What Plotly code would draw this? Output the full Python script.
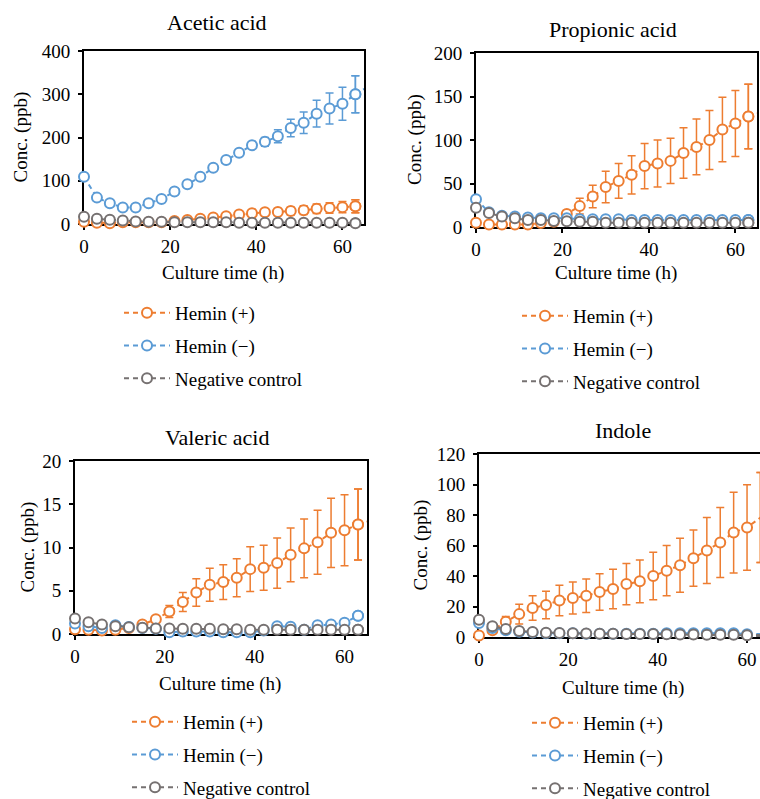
import plotly.graph_objects as go

# ---------------- data ----------------
time_h = [0, 3, 6, 9, 12, 15, 18, 21, 24, 27, 30, 33, 36, 39, 42, 45, 48, 51, 54, 57, 60, 63, 66]
series_names = ["Hemin (+)", "Hemin (\u2212)", "Negative control"]
panel_titles = ["Acetic acid", "Propionic acid", "Valeric acid", "Indole"]
x_label = "Culture time (h)"
y_label = "Conc. (ppb)"

acetic_plus = [5, 3, 2, 4, 4, 4, 4, 7, 9, 12, 15, 18, 22, 25, 27, 28, 30, 32, 35, 37, 39, 41, 43]
acetic_plus_err = [1, 1, 1, 1, 1, 1, 1, 2, 3, 3, 4, 5, 5, 7, 8, 8, 9, 10, 11, 12, 13, 15, 16]
acetic_minus = [109, 61, 48, 38, 38, 48, 58, 75, 92, 109, 130, 148, 165, 182, 190, 203, 222, 234, 255, 267, 278, 300, 318]
acetic_minus_err = [4, 3, 3, 3, 3, 3, 3, 4, 4, 4, 5, 5, 6, 7, 10, 15, 20, 25, 31, 36, 38, 43, 44]
acetic_neg = [17, 12, 10, 8, 6, 5, 5, 4, 4, 4, 4, 4, 3, 3, 3, 3, 3, 3, 3, 3, 3, 2, 2]
acetic_neg_err = [2, 1, 1, 1, 1, 1, 1, 1, 1, 1, 1, 1, 1, 1, 1, 1, 1, 1, 1, 1, 1, 1, 1]

propionic_plus = [5, 3, 3, 3, 3, 4.5, 6, 15, 24, 35, 46, 53, 60, 70, 73, 76, 85, 92, 100, 112, 119, 127, 132]
propionic_plus_err = [1, 1, 1, 1, 1, 1, 2, 4, 9, 13, 18, 20, 22, 26, 27, 26, 29, 32, 34, 37, 38, 37, 37]
propionic_minus = [32, 17, 13, 12, 11, 10, 10, 10, 9, 9, 9, 9, 8, 8, 8, 8, 8, 8, 8, 8, 8, 8, 8]
propionic_minus_err = [2, 1, 1, 1, 1, 1, 1, 1, 1, 1, 1, 1, 1, 1, 1, 1, 1, 1, 1, 1, 1, 1, 1]
propionic_neg = [22, 16, 12, 10, 8, 8, 7, 6.5, 6, 6, 5, 5, 5, 5, 5, 5, 5, 5, 5, 5, 5, 5, 5]
propionic_neg_err = [2, 1, 1, 1, 1, 1, 1, 1, 1, 1, 1, 1, 1, 1, 1, 1, 1, 1, 1, 1, 1, 1, 1]

valeric_plus = [0.55, 0.5, 0.4, 0.5, 0.7, 1.1, 1.7, 2.6, 3.7, 4.8, 5.7, 6.0, 6.5, 7.5, 7.65, 8.2, 9.15, 9.9, 10.6, 11.7, 12.0, 12.65, 13.15]
valeric_plus_err = [0.1, 0.1, 0.1, 0.1, 0.1, 0.2, 0.3, 0.7, 1.1, 1.6, 1.9, 2.0, 2.2, 2.6, 2.6, 2.9, 3.1, 3.4, 3.7, 4.0, 4.1, 4.1, 4.15]
valeric_minus = [1.2, 0.9, 0.7, 1.0, 0.8, 0.7, 0.6, 0.2, 0.3, 0.3, 0.3, 0.2, 0.2, 0.2, 0.4, 0.9, 0.85, 0.5, 1.0, 1.1, 1.3, 2.1, 2.2]
valeric_minus_err = [0.1] * 23
valeric_neg = [1.8, 1.35, 1.1, 0.9, 0.77, 0.73, 0.65, 0.65, 0.6, 0.6, 0.6, 0.55, 0.55, 0.5, 0.5, 0.5, 0.5, 0.5, 0.5, 0.5, 0.5, 0.5, 0.5]
valeric_neg_err = [0.1] * 23

indole_plus = [1, 4.5, 10, 15, 19, 21, 24, 25.5, 27, 29.5, 31.5, 34.7, 36.5, 40, 43.5, 47, 51.7, 56.7, 62, 68.5, 71.8, 78.3, 82]
indole_plus_err = [0.5, 1, 3.5, 6.5, 8, 9, 10, 10.5, 11, 12, 13, 13.5, 14, 15.5, 16.5, 17.7, 18.5, 21.6, 23, 26.5, 28, 29.5, 31]
indole_minus = [9.2, 5.9, 4.4, 3.5, 3.0, 2.5, 2.5, 2.5, 2.2, 2.2, 2.2, 2.2, 2.2, 2.2, 2.5, 2.5, 2.5, 2.5, 2.5, 2.5, 1.8, 1.5, 1.5]
indole_minus_err = [0.5] * 23
indole_neg = [11.3, 7, 5.2, 4, 3.3, 2.8, 2.6, 2.4, 2.3, 2.2, 2.1, 2.0, 2.0, 1.9, 1.8, 1.7, 1.6, 1.5, 1.5, 1.4, 1.2, 1.0, 1.0]
indole_neg_err = [0.5] * 23

y_max = [400, 200, 20, 120]
y_dtick = [100, 50, 5, 20]
x_max = [65, 65, 65, 62.9]
x_ticks = [0, 20, 40, 60]

panels = [
    [(acetic_plus, acetic_plus_err), (acetic_minus, acetic_minus_err), (acetic_neg, acetic_neg_err)],
    [(propionic_plus, propionic_plus_err), (propionic_minus, propionic_minus_err), (propionic_neg, propionic_neg_err)],
    [(valeric_plus, valeric_plus_err), (valeric_minus, valeric_minus_err), (valeric_neg, valeric_neg_err)],
    [(indole_plus, indole_plus_err), (indole_minus, indole_minus_err), (indole_neg, indole_neg_err)],
]

# ---------------- style / layout ----------------
W, H = 760, 799
colors = ["#ED7D31", "#5B9BD5", "#767171"]
FONT = "Liberation Serif"

# plot-area boxes in pixels: (left, right, top, bottom)
boxes = [(84, 364, 51, 224), (476, 757, 53, 227), (75, 367, 461, 634), (479, 760, 454, 637)]
title_pos = [(217, 22), (613, 30), (217, 437), (623, 430)]
xlab_pos = [(223, 273), (616, 273), (220, 684), (623, 688)]
ylab_x = [20, 415, 27, 420]
legend_pos = [(119, 294), (517, 297), (127, 703), (527, 704)]


def px_x(p):
    return p / W


def px_y(p):
    return 1 - p / H


fig = go.Figure()
layout = dict(
    width=W, height=H, autosize=False,
    margin=dict(l=0, r=0, t=0, b=0, autoexpand=False),
    paper_bgcolor="white", plot_bgcolor="white",
    font=dict(family=FONT, size=18, color="#000000"),
    annotations=[],
)

for i, series in enumerate(panels):
    n = i + 1
    xa = "x" if n == 1 else f"x{n}"
    ya = "y" if n == 1 else f"y{n}"
    leg = "legend" if n == 1 else f"legend{n}"
    for s, (vals, errs) in enumerate(series):
        common = dict(
            xaxis=xa, yaxis=ya,
            mode="lines+markers",
            line=dict(color=colors[s], width=2, dash="5px,4px"),
            marker=dict(symbol="circle", size=10, color="white",
                        line=dict(color=colors[s], width=2)),
            legendgroup=f"p{n}s{s}",
        )
        # visible points (0..63 h)
        fig.add_trace(go.Scatter(
            x=time_h[:22], y=vals[:22], name=series_names[s],
            error_y=dict(type="data", array=errs[:22], color=colors[s], thickness=1.5, width=4),
            cliponaxis=False, legend=leg, showlegend=True, **common))
        # last segment running past the right edge, clipped by the plot area
        fig.add_trace(go.Scatter(
            x=time_h[21:], y=vals[21:], name=series_names[s],
            error_y=dict(type="data", array=errs[21:], color=colors[s], thickness=1.5, width=4),
            cliponaxis=True, legend=leg, showlegend=False, hoverinfo="skip", **common))

    l, r, t, b = boxes[i]
    axis_common = dict(
        showline=True, linecolor="black", linewidth=2, mirror=True,
        ticks="outside", ticklen=4, tickwidth=1.5, tickcolor="black",
        showgrid=False, zeroline=False, layer="below traces",
        tickfont=dict(family=FONT, size=19, color="black"),
        ticklabeloverflow="allow",
    )
    layout["xaxis" if n == 1 else f"xaxis{n}"] = dict(
        domain=[px_x(l), min(1, px_x(r))], anchor=ya, range=[0, x_max[i]],
        tickvals=x_ticks, **axis_common)
    layout["yaxis" if n == 1 else f"yaxis{n}"] = dict(
        domain=[px_y(b), px_y(t)], anchor=xa, range=[0, y_max[i]],
        dtick=y_dtick[i], tick0=0, ticklabelstandoff=4, **axis_common)

    lx, ly = legend_pos[i]
    layout[leg] = dict(
        x=px_x(lx), y=px_y(ly), xanchor="left", yanchor="top",
        bgcolor="rgba(0,0,0,0)", borderwidth=0, itemwidth=46,
        font=dict(family=FONT, size=19, color="black"),
        tracegroupgap=5, traceorder="grouped",
    )

    tx, ty = title_pos[i]
    layout["annotations"].append(dict(
        text=panel_titles[i], x=px_x(tx), y=px_y(ty), xref="paper", yref="paper",
        xanchor="center", yanchor="middle", showarrow=False,
        font=dict(family=FONT, size=22, color="black")))
    ax_, ay_ = xlab_pos[i]
    layout["annotations"].append(dict(
        text=x_label, x=px_x(ax_), y=px_y(ay_), xref="paper", yref="paper",
        xanchor="center", yanchor="middle", showarrow=False,
        font=dict(family=FONT, size=19, color="black")))
    layout["annotations"].append(dict(
        text=y_label, x=px_x(ylab_x[i]), y=px_y((t + b) / 2), xref="paper", yref="paper",
        xanchor="center", yanchor="middle", showarrow=False, textangle=-90,
        font=dict(family=FONT, size=19, color="black")))

fig.update_layout(**layout)
fig.write_html("out.html")
